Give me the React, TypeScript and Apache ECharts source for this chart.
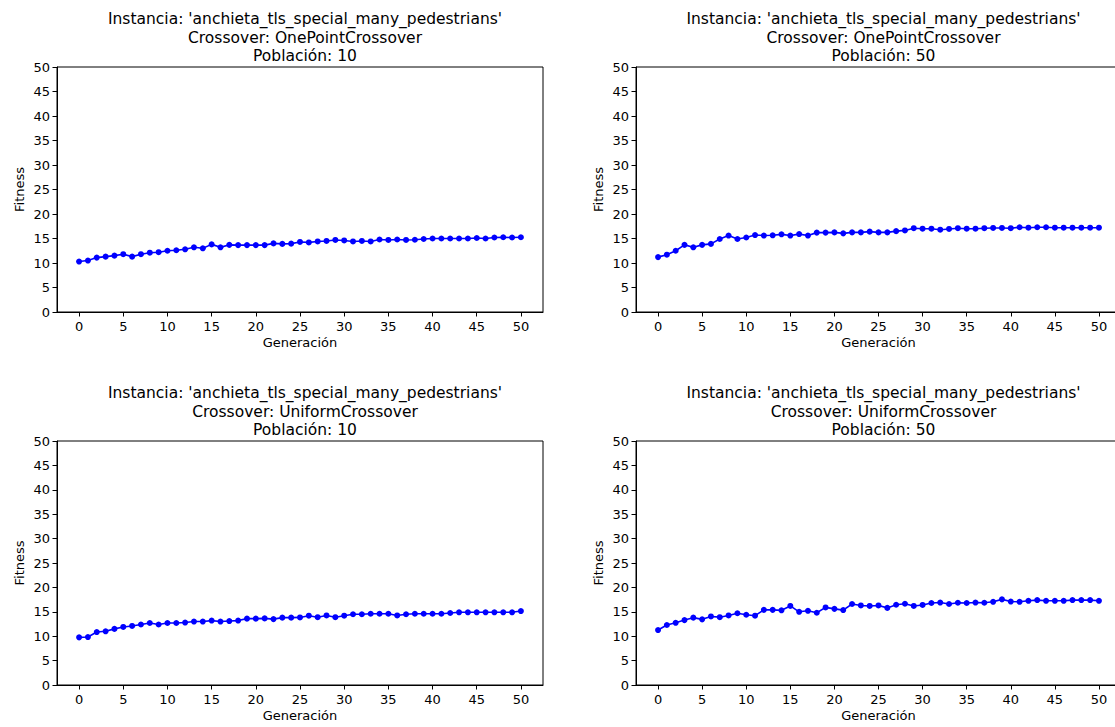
import React, { useEffect, useRef } from "react";
import * as echarts from "echarts";

const generations: number[] = Array.from({ length: 51 }, (_, i) => i);
const xTicks = [0, 5, 10, 15, 20, 25, 30, 35, 40, 45, 50];

const onePoint10 = [10.3, 10.5, 11.1, 11.3, 11.5, 11.8, 11.3, 11.8, 12.1, 12.2, 12.5, 12.6, 12.8, 13.2, 13.0, 13.8, 13.2, 13.7, 13.65, 13.65, 13.65, 13.65, 14.0, 13.9, 13.95, 14.3, 14.2, 14.4, 14.5, 14.7, 14.6, 14.4, 14.5, 14.4, 14.8, 14.7, 14.8, 14.7, 14.75, 14.9, 15.0, 15.0, 15.0, 15.0, 15.0, 15.1, 15.0, 15.2, 15.25, 15.2, 15.25];
const onePoint50 = [11.2, 11.7, 12.5, 13.7, 13.2, 13.7, 13.9, 14.9, 15.6, 14.9, 15.2, 15.7, 15.6, 15.65, 15.85, 15.6, 15.9, 15.6, 16.2, 16.2, 16.25, 16.05, 16.25, 16.25, 16.4, 16.25, 16.25, 16.5, 16.65, 17.1, 17.0, 17.0, 16.8, 16.95, 17.1, 17.0, 17.0, 17.1, 17.15, 17.15, 17.1, 17.3, 17.2, 17.3, 17.3, 17.2, 17.2, 17.2, 17.2, 17.2, 17.2];
const uniform10 = [9.76, 9.83, 10.85, 11.0, 11.5, 11.9, 12.1, 12.4, 12.7, 12.4, 12.7, 12.7, 12.8, 13.0, 13.0, 13.2, 13.0, 13.1, 13.2, 13.6, 13.6, 13.65, 13.5, 13.8, 13.8, 13.85, 14.2, 13.9, 14.25, 13.9, 14.2, 14.5, 14.5, 14.6, 14.6, 14.6, 14.25, 14.5, 14.6, 14.6, 14.6, 14.6, 14.75, 14.9, 14.9, 14.9, 14.9, 14.9, 14.9, 14.9, 15.15];
const uniform50 = [11.26, 12.3, 12.75, 13.3, 13.8, 13.45, 14.05, 13.9, 14.25, 14.7, 14.4, 14.2, 15.4, 15.4, 15.3, 16.2, 15.0, 15.2, 14.8, 15.9, 15.6, 15.35, 16.6, 16.3, 16.2, 16.3, 15.8, 16.45, 16.65, 16.2, 16.4, 16.8, 16.9, 16.6, 16.85, 16.8, 16.9, 16.85, 17.05, 17.55, 17.1, 17.05, 17.25, 17.4, 17.25, 17.25, 17.25, 17.4, 17.4, 17.4, 17.25];

const instance = "anchieta_tls_special_many_pedestrians";
const crossovers = ["OnePointCrossover", "OnePointCrossover", "UniformCrossover", "UniformCrossover"];
const populations = [10, 50, 10, 50];
const seriesValues = [onePoint10, onePoint50, uniform10, uniform50];

const FONT = "DejaVu Sans";

export default function App() {
  const ref = useRef<HTMLDivElement>(null);
  useEffect(() => {
    if (!ref.current) return;
    const chart = echarts.init(ref.current, null, { renderer: "svg" });
    const grids = [
      { left: 57, top: 67, width: 486, height: 245 },
      { left: 636, top: 67, width: 485, height: 245 },
      { left: 57, top: 441, width: 486, height: 244 },
      { left: 636, top: 441, width: 485, height: 244 },
    ];
    const titleCenters = [300, 878.5, 300, 878.5];
    const titleTops = [5, 5, 379, 379];
    const axisLabelStyle = { color: "#000", fontFamily: FONT, fontSize: 13 };
    const option: any = {
      animation: false,
      backgroundColor: "#fff",
      title: grids.map((g, i) => ({
        text: `Instancia: '${instance}'\nCrossover: ${crossovers[i]}\nPoblación: ${populations[i]}`,
        left: titleCenters[i],
        top: titleTops[i],
        textAlign: "center",
        textStyle: { fontFamily: FONT, fontSize: 15.5, fontWeight: "normal", color: "#000", lineHeight: 18.5 },
      })),
      grid: grids.map((g) => ({ ...g, show: true, borderColor: "#000", borderWidth: 1, containLabel: false })),
      xAxis: grids.map((g, i) => ({
        type: "value",
        gridIndex: i,
        min: -2.5,
        max: 52.5,
        name: "Generación",
        nameLocation: "middle",
        nameGap: 24,
        nameTextStyle: axisLabelStyle,
        axisLine: { show: true, onZero: false, lineStyle: { color: "#000", width: 1 } },
        axisTick: { show: true, length: 4.5, lineStyle: { color: "#000" }, customValues: xTicks },
        axisLabel: { ...axisLabelStyle, margin: 8, customValues: xTicks },
        splitLine: { show: false },
      })),
      yAxis: grids.map((g, i) => ({
        type: "value",
        gridIndex: i,
        min: 0,
        max: 50,
        interval: 5,
        name: "Fitness",
        nameLocation: "middle",
        nameGap: 31,
        nameTextStyle: axisLabelStyle,
        axisLine: { show: true, onZero: false, lineStyle: { color: "#000", width: 1 } },
        axisTick: { show: true, length: 4.5, lineStyle: { color: "#000" } },
        axisLabel: { ...axisLabelStyle, margin: 7 },
        splitLine: { show: false },
      })),
      series: seriesValues.map((vals, i) => ({
        type: "line",
        xAxisIndex: i,
        yAxisIndex: i,
        data: generations.map((gen, k) => [gen, vals[k]]),
        symbol: "circle",
        symbolSize: 6,
        showSymbol: true,
        lineStyle: { color: "#0000ff", width: 1.6 },
        itemStyle: { color: "#0000ff" },
      })),
    };
    chart.setOption(option);
    return () => chart.dispose();
  }, []);
  return (
    <div style={{ position: "absolute", left: 0, top: 0, width: 1115, height: 727, overflow: "hidden", background: "#fff" }}>
      <div ref={ref} style={{ width: 1130, height: 727 }} />
    </div>
  );
}
